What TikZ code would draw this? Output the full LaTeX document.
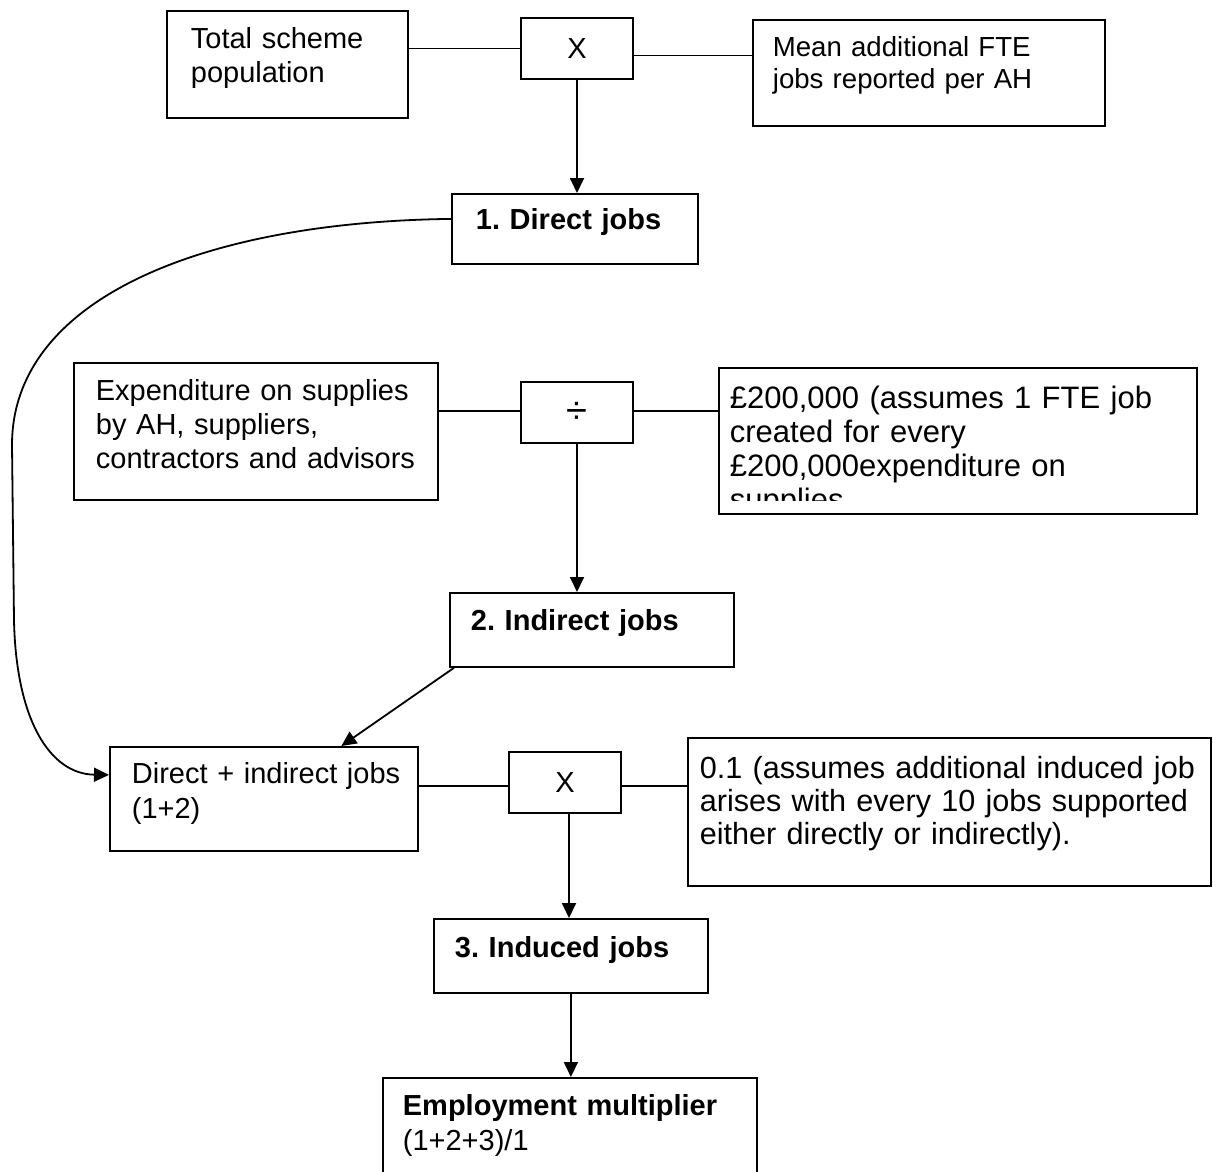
\documentclass[tikz,border=0pt]{standalone}
\usepackage{fontspec}
\setmainfont{Liberation Sans}
\usetikzlibrary{arrows.meta,calc}

\tikzset{
  link/.style={line width=1.8pt, black},
  arr/.style={link, -{Triangle[length=15pt,width=14pt]}},
  % text box: outer width, left padding, height above first baseline, depth below it
  tbox/.style n args={4}{draw, link, anchor=north west, align=left,
    inner ysep=0pt, inner xsep=0pt, text width=#1pt,
    execute at begin node={\leftskip=#2pt\relax},
    text height=#3pt, text depth=#4pt},
  opbox/.style n args={2}{draw, link, minimum width=#1pt, minimum height=#2pt,
    inner sep=0pt, font=\fontsize{29}{34}\selectfont},
  fa/.style={font=\fontsize{29}{34}\selectfont},
  fb/.style={font=\fontsize{29}{34}\selectfont\bfseries},
}

\begin{document}
\frenchspacing
\begin{tikzpicture}[x=1pt,y=-1pt]
  \fill[white] (0,0) rectangle (1213,1171);
  \useasboundingbox (0,0) rectangle (1213,1171);
  \clip (0,0) rectangle (1213,1171);

  % --- direct jobs ---
  \node[tbox={241}{24}{38}{69}, fa] (pop) at (166,10) {Total scheme\\population};
  \node[opbox={112}{61}] (mul1) at (577,48.5) {X};
  \node[tbox={352}{20}{37}{69}, font=\fontsize{27.6}{32}\selectfont] (mean) at (752,19)
    {Mean additional FTE\\jobs reported per AH};
  \node[tbox={246}{24}{36}{34}, fb] (direct) at (451,193) {1. Direct jobs};

  \draw[link] (mul1.west) -- (mul1.west -| pop.east);
  \draw[link] ([yshift=-7pt]mul1.east) -- ([yshift=-7pt]mul1.east -| mean.west);
  \draw[arr] (mul1.south) -- (mul1.south |- direct.north);

  % --- indirect jobs ---
  \node[tbox={364}{22}{38}{99}, fa] (spend) at (73,362)
    {Expenditure on supplies\\by AH, suppliers,\\contractors and advisors};
  \node[opbox={112}{61}, font=\fontsize{38}{40}\selectfont] (div) at (577,412.5)
    {\raisebox{-4pt}{÷}};
  \begin{scope}
    \clip (700,350) rectangle (1213,500);
    \node[tbox={476}{10}{40}{104}, font=\fontsize{31}{34}\selectfont, draw=none] (rate) at (719,368)
      {£200,000 (assumes 1 FTE job\\created for every\\£200,000expenditure on\\supplies};
  \end{scope}
  \draw[link] (rate.north west) rectangle (rate.south east);
  \node[tbox={284}{21}{38}{36}, fb] (indirect) at (449,592) {2. Indirect jobs};

  \draw[link] ([yshift=1.5pt]div.west) -- ([yshift=1.5pt]div.west -| spend.east);
  \draw[link] ([yshift=1.5pt]div.east) -- ([yshift=1.5pt]div.east -| rate.west);
  \draw[arr] (div.south) -- (div.south |- indirect.north);

  % --- induced jobs ---
  \node[tbox={308}{22}{37}{67}, font=\fontsize{29}{35}\selectfont] (both) at (109,746)
    {Direct + indirect jobs\\(1+2)};
  \node[opbox={112}{61}] (mul2) at (565,782.5) {X};
  \node[tbox={523}{12}{41}{107}, font=\fontsize{30.6}{33}\selectfont] (ratio) at (687,737)
    {0.1 (assumes additional induced job\\arises with every 10 jobs supported\\either directly or indirectly).};
  \node[tbox={274}{21}{39}{35}, fb] (induced) at (433,918) {3. Induced jobs};
  \node[tbox={374}{20}{38}{92}, font=\fontsize{29}{35}\selectfont] (multi) at (382,1077)
    {\textbf{Employment multiplier}\\(1+2+3)/1};

  \draw[arr] ([xshift=5pt]indirect.south west) -- ($(both.north east)!0.25!(both.north west)$);
  \draw[arr] ([yshift=10pt]direct.west) .. controls (200,222) and (12,300) .. (12,445)
    -- (14,620) .. controls (16,720) and (50,774) .. ([yshift=24pt]both.west);
  \draw[link] ([yshift=-3.5pt]mul2.west) -- ([yshift=-3.5pt]mul2.west -| both.east);
  \draw[link] ([yshift=-3.5pt]mul2.east) -- ([yshift=-3.5pt]mul2.east -| ratio.west);
  \draw[arr] ([xshift=4pt]mul2.south) -- ([xshift=4pt]mul2.south |- induced.north);
  \draw[arr] (induced.south) -- (induced.south |- multi.north);
\end{tikzpicture}
\end{document}
